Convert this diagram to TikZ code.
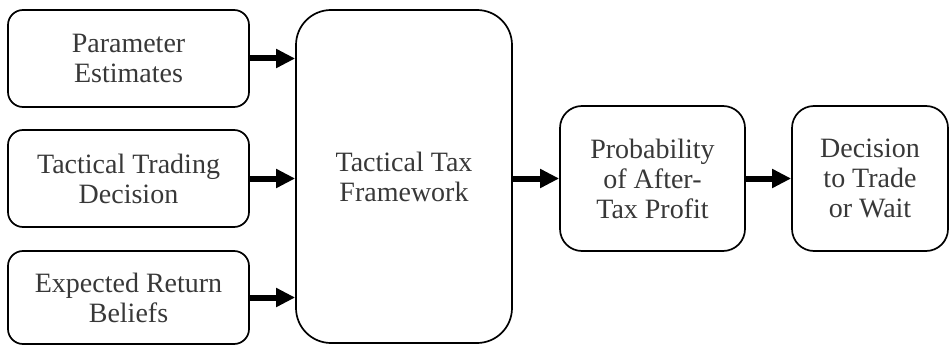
\documentclass[tikz,border=0pt]{standalone}
\usepackage{fontspec}
\setmainfont{Liberation Serif}
\usetikzlibrary{arrows.meta}
\begin{document}
\begin{tikzpicture}[x=1pt,y=-1pt,
  box/.style={draw=black,line width=1.7pt,rounded corners=15pt,text=black!78,
    font=\fontsize{28}{30}\selectfont,align=center,inner sep=0pt},
  arr/.style={line width=6pt,-{Triangle[length=19pt,width=18pt]}}]
\useasboundingbox (0,0) rectangle (950,345);
\node[box,minimum width=241pt,minimum height=97pt] (pe) at (128.5,58.5) {Parameter\\Estimates};
\node[box,minimum width=241pt,minimum height=97pt] (td) at (128.5,178.5) {Tactical Trading\\Decision};
\node[box,minimum width=241pt,minimum height=93pt] (er) at (128.5,297.5) {Expected Return\\Beliefs};
\node[box,rounded corners=35pt,minimum width=216pt,minimum height=333pt] (tf) at (404,176.5) {Tactical Tax\\Framework};
\node[box,rounded corners=22pt,minimum width=185pt,minimum height=145pt] (pp) at (652.5,178.5) {Probability\\of After-\\Tax Profit};
\node[box,rounded corners=22pt,minimum width=156pt,minimum height=145pt] (dw) at (870,178.5) {Decision\\to Trade\\or Wait};
\draw[arr] (pe.east) -- (pe.east -| tf.west);
\draw[arr] (td.east) -- (td.east -| tf.west);
\draw[arr] (er.east) -- (er.east -| tf.west);
\draw[arr] (tf.east |- pp.west) -- (pp.west);
\draw[arr] (pp.east) -- (dw.west);
\end{tikzpicture}
\end{document}
